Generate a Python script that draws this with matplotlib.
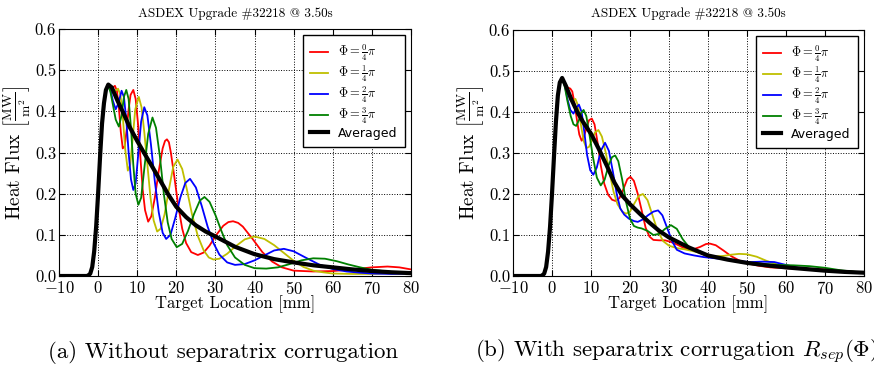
import matplotlib
matplotlib.use("Agg")
import matplotlib.pyplot as plt

plt.rcParams['font.family'] = 'cmr10'
plt.rcParams['mathtext.fontset'] = 'cm'
plt.rcParams['axes.formatter.use_mathtext'] = True
plt.rcParams['xtick.direction'] = 'in'
plt.rcParams['ytick.direction'] = 'in'
plt.rcParams['xtick.top'] = True
plt.rcParams['ytick.right'] = True

# shared rising edge (x in mm)
rise_x = [-10, -3, -2.5, -2, -1.5, -1, -0.5, 0, 0.5, 1, 1.5, 2, 2.6]
rise_a = [0, 0, 0.001, 0.006, 0.022, 0.06, 0.12, 0.2, 0.29, 0.37, 0.42, 0.452, 0.465]
rise_b = [0, 0, 0.001, 0.006, 0.022, 0.06, 0.12, 0.2, 0.29, 0.375, 0.44, 0.472, 0.483]

# (a) without separatrix corrugation
a_avg_x = [3.5, 5, 6.5, 8, 10, 12, 14, 16, 18, 20, 22.5, 25, 27.5, 30, 35, 40, 45, 50, 55, 60, 65, 70, 75, 80]
a_avg_y = [0.458, 0.425, 0.395, 0.363, 0.328, 0.295, 0.263, 0.23, 0.197, 0.168, 0.143, 0.123, 0.108, 0.096,
           0.071, 0.053, 0.041, 0.033, 0.026, 0.021, 0.016, 0.012, 0.009, 0.007]

a_red_x = [3.2, 3.8, 4.3, 4.8, 5.3, 5.8, 6.3, 6.8, 7.3, 7.8, 8.3, 9.0, 9.6, 10.2, 10.8, 11.4, 12.0, 12.8, 13.6,
           14.5, 15.5, 16.5, 17.1, 17.6, 18.1, 18.6, 19.5, 20.5, 21.5, 22.5, 23.8, 25.5, 27, 28.5, 30, 32, 33.3,
           34.5, 35.8, 37, 39.5, 42, 44.5, 47, 50, 55, 60, 65, 70, 74, 77, 80]
a_red_y = [0.46, 0.458, 0.462, 0.45, 0.41, 0.35, 0.31, 0.315, 0.355, 0.405, 0.44, 0.452, 0.43, 0.37, 0.29, 0.21,
           0.16, 0.132, 0.145, 0.19, 0.255, 0.31, 0.328, 0.332, 0.325, 0.3, 0.24, 0.17, 0.115, 0.08, 0.058, 0.051,
           0.057, 0.074, 0.097, 0.122, 0.131, 0.133, 0.129, 0.12, 0.09, 0.058, 0.035, 0.021, 0.013, 0.011, 0.012,
           0.016, 0.021, 0.023, 0.021, 0.016]

a_yel_x = [3.2, 3.8, 4.4, 5.1, 5.7, 6.3, 6.9, 7.6, 8.2, 8.8, 9.5, 10.4, 11.1, 11.8, 12.6, 13.4, 14.2, 15.1, 16,
           17, 18, 19.2, 20.3, 21.5, 22.7, 24, 25.5, 27, 28.3, 29.5, 31, 33, 35, 37.5, 40, 42.5, 45, 47.5, 50,
           52.5, 55, 57.5, 60, 65, 70, 75, 80]
a_yel_y = [0.455, 0.447, 0.45, 0.455, 0.44, 0.39, 0.31, 0.256, 0.27, 0.33, 0.405, 0.435, 0.41, 0.35, 0.27, 0.19,
           0.135, 0.108, 0.115, 0.15, 0.205, 0.265, 0.283, 0.26, 0.21, 0.15, 0.097, 0.062, 0.045, 0.04, 0.042,
           0.054, 0.071, 0.089, 0.096, 0.09, 0.075, 0.056, 0.037, 0.022, 0.013, 0.009, 0.006, 0.005, 0.005, 0.006,
           0.008]

a_blu_x = [3.2, 3.8, 4.5, 5.2, 6.0, 6.6, 7.2, 7.8, 8.4, 9.0, 9.6, 10.3, 11.0, 11.8, 12.6, 13.5, 14.5, 15.5,
           16.5, 17.4, 18.5, 19.7, 21, 22.3, 23.5, 25, 26.5, 28, 29.5, 31, 33, 35, 37.5, 40, 42.5, 45, 47.5, 50,
           53, 56.5, 60, 63.5, 67, 70, 75, 80]
a_blu_y = [0.45, 0.425, 0.405, 0.42, 0.45, 0.435, 0.38, 0.3, 0.235, 0.209, 0.225, 0.3, 0.375, 0.41, 0.39, 0.32,
           0.23, 0.155, 0.105, 0.09, 0.1, 0.14, 0.19, 0.226, 0.236, 0.215, 0.17, 0.12, 0.08, 0.052, 0.033, 0.027,
           0.029, 0.038, 0.05, 0.062, 0.066, 0.06, 0.045, 0.028, 0.017, 0.011, 0.008, 0.006, 0.005, 0.006]

a_grn_x = [3.2, 3.8, 4.5, 5.3, 6.0, 6.6, 7.2, 7.8, 8.4, 9.0, 9.6, 10.3, 11, 11.8, 12.8, 13.9, 14.8, 15.8, 16.8,
           17.8, 18.8, 20.1, 21.5, 23, 24.5, 26, 27.2, 28.5, 30, 31.5, 33, 35, 37.5, 40, 43, 46, 49, 52, 55, 58,
           61, 64, 67, 70, 75, 80]
a_grn_y = [0.445, 0.415, 0.38, 0.363, 0.39, 0.435, 0.452, 0.43, 0.36, 0.27, 0.2, 0.173, 0.19, 0.26, 0.345, 0.385,
           0.36, 0.29, 0.2, 0.13, 0.09, 0.07, 0.078, 0.11, 0.15, 0.183, 0.192, 0.18, 0.148, 0.11, 0.075, 0.045,
           0.027, 0.019, 0.018, 0.021, 0.029, 0.038, 0.043, 0.042, 0.036, 0.028, 0.021, 0.015, 0.01, 0.007]

# (b) with separatrix corrugation
b_avg_x = [3.5, 5, 6.5, 8, 10, 12, 14, 16, 18, 20, 22.5, 25, 27.5, 30, 35, 40, 45, 50, 55, 60, 65, 70, 75, 80]
b_avg_y = [0.465, 0.43, 0.4, 0.375, 0.347, 0.31, 0.27, 0.228, 0.196, 0.175, 0.152, 0.13, 0.11, 0.094, 0.07,
           0.05, 0.04, 0.032, 0.026, 0.021, 0.017, 0.013, 0.01, 0.008]

b_red_x = [3.3, 4.0, 4.7, 5.2, 5.8, 6.4, 7.0, 7.6, 8.2, 8.8, 9.5, 10.2, 10.9, 11.7, 12.5, 13.4, 14.4, 15.4, 16.3,
           17.3, 18.3, 19.3, 20.1, 21, 22, 23, 24, 25, 26, 27.5, 29, 30.5, 32, 33.5, 35, 36.5, 38, 39.5, 40.5,
           42, 44, 46, 48, 50, 53, 56, 60, 65, 70, 75, 80]
b_red_y = [0.47, 0.46, 0.457, 0.45, 0.42, 0.38, 0.345, 0.33, 0.34, 0.36, 0.38, 0.384, 0.37, 0.325, 0.27, 0.225,
           0.198, 0.186, 0.183, 0.19, 0.212, 0.236, 0.242, 0.232, 0.2, 0.16, 0.118, 0.096, 0.088, 0.087, 0.087,
           0.083, 0.077, 0.07, 0.065, 0.066, 0.071, 0.078, 0.079, 0.075, 0.062, 0.048, 0.038, 0.031, 0.025, 0.021,
           0.019, 0.018, 0.016, 0.012, 0.008]

b_yel_x = [3.3, 4.0, 4.6, 5.2, 6.0, 6.7, 7.4, 8.1, 8.8, 9.5, 10.2, 11.0, 11.9, 12.8, 13.8, 14.8, 15.8, 16.8, 18,
           19, 20, 21, 22.2, 23.3, 24.5, 25.7, 27, 28.5, 30, 32, 34, 36, 38, 40, 42, 44, 46, 48, 50, 52.5, 55,
           57.5, 60, 65, 70, 75, 80]
b_yel_y = [0.47, 0.45, 0.43, 0.425, 0.432, 0.415, 0.37, 0.33, 0.312, 0.315, 0.33, 0.35, 0.356, 0.34, 0.3, 0.25,
           0.205, 0.175, 0.157, 0.152, 0.157, 0.175, 0.195, 0.2, 0.185, 0.15, 0.112, 0.085, 0.074, 0.068, 0.065,
           0.061, 0.056, 0.05, 0.048, 0.049, 0.052, 0.054, 0.053, 0.047, 0.037, 0.029, 0.023, 0.017, 0.013, 0.01,
           0.007]

b_blu_x = [3.3, 4.0, 4.7, 5.5, 6.2, 6.9, 7.6, 8.3, 9.0, 9.8, 10.6, 11.5, 12.5, 13.6, 14.6, 15.6, 16.6, 17.5,
           18.5, 19.7, 21, 22, 23.3, 24.6, 26, 27.2, 28.3, 29.5, 30.8, 32, 34, 36.5, 39, 42, 45, 48, 51, 54, 57,
           60, 63, 66, 70, 75, 80]
b_blu_y = [0.465, 0.43, 0.405, 0.396, 0.41, 0.418, 0.4, 0.35, 0.295, 0.258, 0.247, 0.265, 0.305, 0.325, 0.305,
           0.255, 0.2, 0.165, 0.15, 0.14, 0.134, 0.132, 0.138, 0.148, 0.157, 0.16, 0.148, 0.118, 0.085, 0.064,
           0.055, 0.05, 0.046, 0.043, 0.04, 0.036, 0.034, 0.035, 0.034, 0.027, 0.02, 0.016, 0.013, 0.01, 0.008]

b_grn_x = [3.3, 4.0, 4.8, 5.5, 6.2, 6.9, 7.5, 8.1, 8.8, 9.6, 10.5, 11.5, 12.5, 13.5, 14.5, 15.4, 16.2, 17.0, 18,
           19, 20, 21, 22, 23, 24.5, 26, 27.5, 29, 30.5, 32, 33.5, 35, 37, 40, 43, 46, 49, 52, 55, 58, 62, 66, 70,
           74, 77, 80]
b_grn_y = [0.46, 0.425, 0.39, 0.37, 0.366, 0.38, 0.398, 0.405, 0.39, 0.345, 0.29, 0.24, 0.221, 0.235, 0.27, 0.29,
           0.294, 0.28, 0.235, 0.18, 0.14, 0.122, 0.118, 0.116, 0.11, 0.1, 0.103, 0.115, 0.124, 0.115, 0.09, 0.072,
           0.06, 0.05, 0.043, 0.038, 0.032, 0.031, 0.029, 0.027, 0.026, 0.024, 0.02, 0.014, 0.011, 0.008]

labels = [r'$\Phi=\frac{0}{4}\pi$', r'$\Phi=\frac{1}{4}\pi$', r'$\Phi=\frac{2}{4}\pi$', r'$\Phi=\frac{3}{4}\pi$']
colors = ['r', 'y', 'b', 'g']

panels = [
    (rise_a, [(a_red_x, a_red_y), (a_yel_x, a_yel_y), (a_blu_x, a_blu_y), (a_grn_x, a_grn_y)], (a_avg_x, a_avg_y)),
    (rise_b, [(b_red_x, b_red_y), (b_yel_x, b_yel_y), (b_blu_x, b_blu_y), (b_grn_x, b_grn_y)], (b_avg_x, b_avg_y)),
]

fig = plt.figure(figsize=(8.74, 3.75), dpi=100)
ax_pos = [[59 / 874, 99 / 375, 352 / 874, 247 / 375],
          [513 / 874, 99 / 375, 351 / 874, 246 / 375]]

for pos, (rise, curves, avg) in zip(ax_pos, panels):
    ax = fig.add_axes(pos)
    for (cx, cy), c, lab in zip(curves, colors, labels):
        ax.plot(rise_x + cx, rise + cy, color=c, lw=1.3, label=lab)
    ax.plot(rise_x + avg[0], rise + avg[1], color='k', lw=3, label='Averaged')
    ax.set_xlim(-10, 80)
    ax.set_ylim(0, 0.6)
    ax.set_xticks(range(-10, 81, 10))
    ax.set_yticks([0.0, 0.1, 0.2, 0.3, 0.4, 0.5, 0.6])
    ax.yaxis.set_major_formatter(matplotlib.ticker.FormatStrFormatter('%.1f'))
    ax.tick_params(labelsize=12, length=4, width=0.8, pad=2)
    ax.tick_params(axis='x', pad=3)
    ax.grid(True, color='k', linestyle=':', linewidth=0.7)
    ax.set_title('ASDEX Upgrade #32218 @ 3.50s', fontsize=9.5, pad=9)
    ax.set_xlabel('Target Location [mm]', fontsize=12, labelpad=-1)
    ax.set_ylabel(r'Heat Flux $\left[\frac{\mathrm{MW}}{\mathrm{m}^2}\right]$', fontsize=14, labelpad=1)
    leg = ax.legend(loc='upper right', prop={'family': 'DejaVu Sans', 'size': 9}, fancybox=False,
                    framealpha=1, edgecolor='k', labelspacing=0.05, handlelength=1.5, handletextpad=0.8,
                    borderpad=0.55, borderaxespad=0.5)
    leg.get_frame().set_linewidth(1.0)

fig.text(48 / 874, 1 - 352 / 375, '(a) Without separatrix corrugation', fontsize=16.5, va='center', ha='left')
fig.text(475 / 874, 1 - 352 / 375, r'(b) With separatrix corrugation $R_{sep}(\Phi)$', fontsize=16.5,
         va='center', ha='left')

fig.savefig('out.png', dpi=100, facecolor='white')
